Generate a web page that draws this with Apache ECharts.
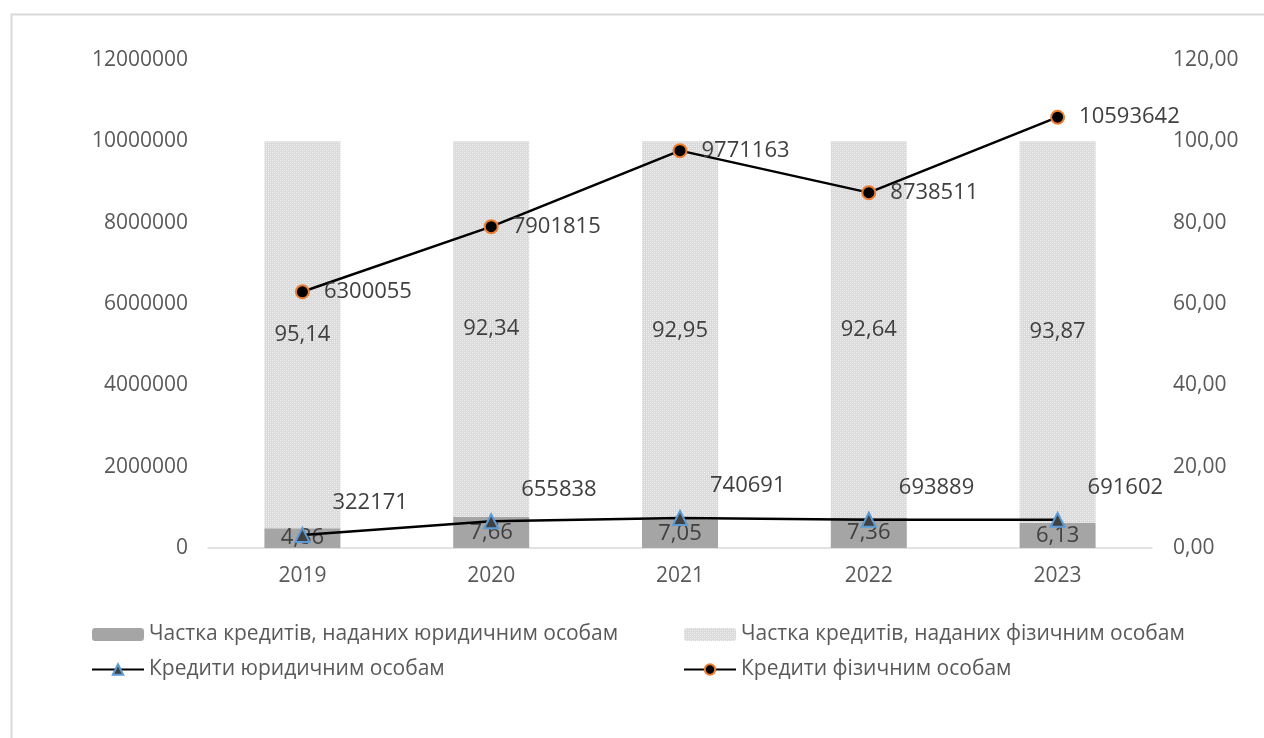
<!DOCTYPE html>
<html>
<head>
<meta charset="utf-8">
<script src="https://cdn.jsdelivr.net/npm/echarts@6/dist/echarts.min.js"></script>
<style>
  html, body { margin: 0; padding: 0; background: #ffffff; }
  #chart { width: 1264px; height: 738px; }
</style>
</head>
<body>
<div id="chart"></div>
<script>
// Years on the category axis
const years = ['2019', '2020', '2021', '2022', '2023'];

// Shares of loans, % (right axis, stacked to 100)
const shareLegal = [4.86, 7.66, 7.05, 7.36, 6.13];
const shareIndividual = [95.14, 92.34, 92.95, 92.64, 93.87];

// Loan volumes (left axis)
const creditsLegal = [322171, 655838, 740691, 693889, 691602];
const creditsIndividual = [6300055, 7901815, 9771163, 8738511, 10593642];

// Series names
const nameShareLegal = 'Частка кредитів, наданих юридичним особам';
const nameShareIndividual = 'Частка кредитів, наданих фізичним особам';
const nameCreditsLegal = 'Кредити юридичним особам';
const nameCreditsIndividual = 'Кредити фізичним особам';

const FONT = 'Open Sans';
const AXIS_COLOR = '#595959';
const LABEL_COLOR = '#404040';

// Fine dotted fill for the individuals' share bars
function dotPattern() {
  const c = document.createElement('canvas');
  c.width = 4; c.height = 4;
  const ctx = c.getContext('2d');
  ctx.fillStyle = '#dadada';
  ctx.fillRect(0, 0, 4, 4);
  ctx.fillStyle = '#f4f4f4';
  ctx.fillRect(0, 0, 1, 1);
  ctx.fillRect(2, 2, 1, 1);
  ctx.fillStyle = '#e8e8e8';
  ctx.fillRect(2, 0, 1, 1);
  ctx.fillRect(0, 2, 1, 1);
  return { image: c, repeat: 'repeat' };
}

const comma2 = v => Number(v).toFixed(2).replace('.', ',');

const chart = echarts.init(document.getElementById('chart'), null, { renderer: 'canvas' });

chart.setOption({
  animation: false,
  backgroundColor: '#ffffff',
  textStyle: { fontFamily: FONT },
  graphic: [{
    type: 'rect',
    left: 9, top: 12,
    shape: { width: 1300, height: 800 },
    style: { fill: 'none', stroke: '#d9d9d9', lineWidth: 2 },
    silent: true
  }],
  grid: { left: 208, right: 112, top: 60, bottom: 190, containLabel: false },
  legend: [
    {
      data: [nameShareLegal, nameCreditsLegal],
      orient: 'vertical',
      left: 86, top: 619,
      itemWidth: 52, itemHeight: 13, itemGap: 14,
      textStyle: { color: AXIS_COLOR, fontSize: 21, fontFamily: FONT },
      selectedMode: false
    },
    {
      data: [nameShareIndividual, nameCreditsIndividual],
      orient: 'vertical',
      left: 678, top: 619,
      itemWidth: 52, itemHeight: 13, itemGap: 14,
      textStyle: { color: AXIS_COLOR, fontSize: 21, fontFamily: FONT },
      selectedMode: false
    }
  ],
  xAxis: {
    type: 'category',
    data: years,
    axisLine: { lineStyle: { color: '#d9d9d9', width: 1.5 } },
    axisTick: { show: false },
    axisLabel: { color: AXIS_COLOR, fontSize: 21, margin: 18, fontFamily: FONT }
  },
  yAxis: [
    {
      type: 'value',
      min: 0, max: 12000000, interval: 2000000,
      axisLine: { show: false },
      axisTick: { show: false },
      splitLine: { show: false },
      axisLabel: { color: AXIS_COLOR, fontSize: 21, margin: 20, fontFamily: FONT, formatter: v => String(v) }
    },
    {
      type: 'value',
      min: 0, max: 120, interval: 20,
      axisLine: { show: false },
      axisTick: { show: false },
      splitLine: { show: false },
      axisLabel: { color: AXIS_COLOR, fontSize: 21, margin: 21, fontFamily: FONT, formatter: comma2 }
    }
  ],
  series: [
    {
      name: nameShareLegal,
      type: 'bar',
      yAxisIndex: 1,
      stack: 'share',
      barWidth: 76,
      data: shareLegal,
      itemStyle: { color: '#a5a5a5' },
      label: {
        show: true, position: 'inside',
        color: LABEL_COLOR, fontSize: 22, fontFamily: FONT,
        formatter: p => comma2(p.value)
      },
      z: 1
    },
    {
      name: nameShareIndividual,
      type: 'bar',
      yAxisIndex: 1,
      stack: 'share',
      barWidth: 76,
      data: shareIndividual,
      itemStyle: { color: dotPattern() },
      label: {
        show: true, position: 'inside',
        color: LABEL_COLOR, fontSize: 22, fontFamily: FONT,
        formatter: p => comma2(p.value)
      },
      z: 1
    },
    {
      name: nameCreditsLegal,
      type: 'line',
      yAxisIndex: 0,
      data: creditsLegal,
      symbol: 'triangle',
      symbolSize: 14,
      lineStyle: { color: '#000000', width: 2.5 },
      itemStyle: { color: '#404040', borderColor: '#5b9bd5', borderWidth: 2 },
      label: {
        show: true, position: 'right', distance: 22, offset: [0, -32],
        color: LABEL_COLOR, fontSize: 22, fontFamily: FONT
      },
      z: 5
    },
    {
      name: nameCreditsIndividual,
      type: 'line',
      yAxisIndex: 0,
      data: creditsIndividual,
      symbol: 'circle',
      symbolSize: 13,
      lineStyle: { color: '#000000', width: 2.5 },
      itemStyle: { color: '#000000', borderColor: '#ed7d31', borderWidth: 2 },
      label: {
        show: true, position: 'right', distance: 14,
        color: LABEL_COLOR, fontSize: 22, fontFamily: FONT
      },
      z: 5
    }
  ]
});
</script>
</body>
</html>
